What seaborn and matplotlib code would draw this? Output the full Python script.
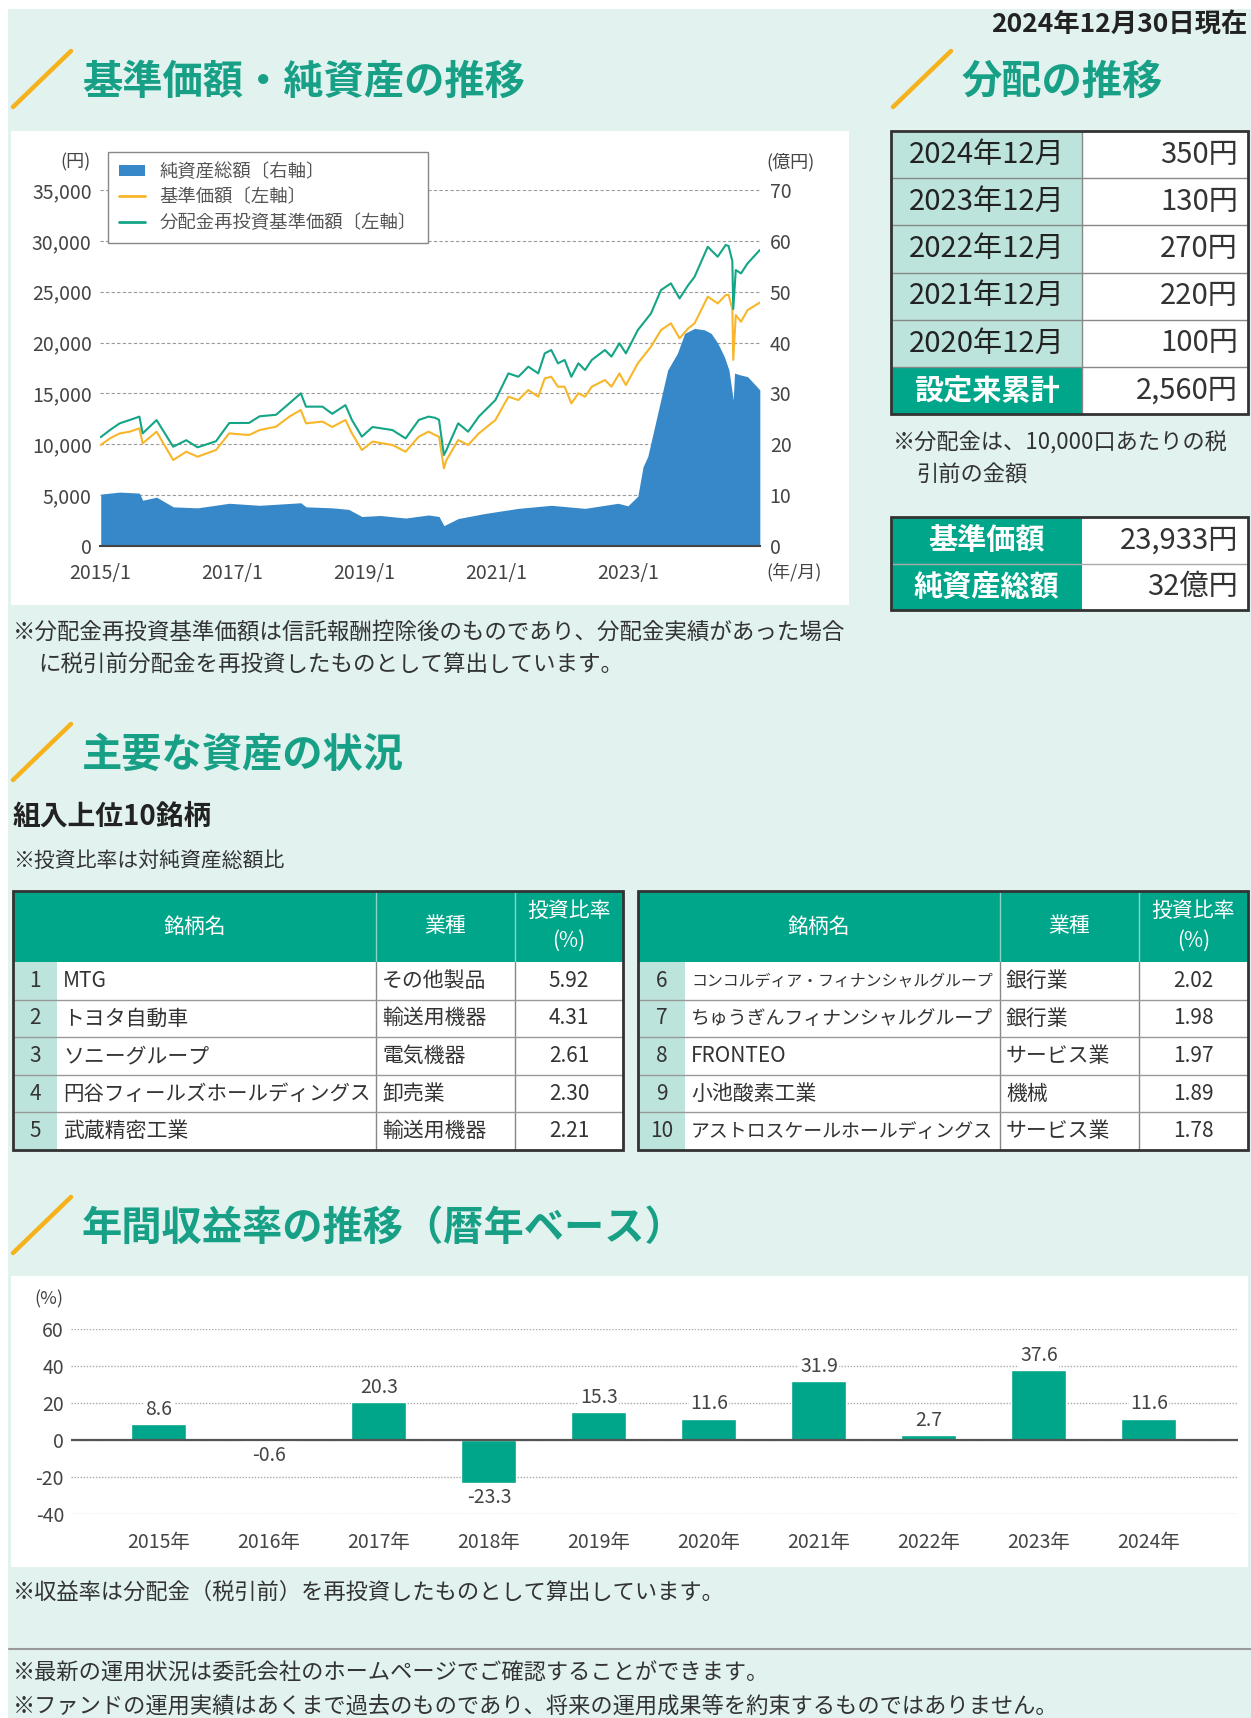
import pandas as pd
import seaborn as sns
import matplotlib.pyplot as plt
from matplotlib.patches import Rectangle, Patch
from matplotlib.lines import Line2D

sns.set_style('white')
plt.rcParams['font.family'] = ['Noto Sans CJK JP', 'DejaVu Sans']

# ---- 基準価額・分配金再投資基準価額（円） ----
price_dates = ['2015-01-05', '2015-02-25', '2015-04-20', '2015-06-15', '2015-08-07', '2015-08-25',
               '2015-11-10', '2016-02-10', '2016-04-22', '2016-06-24', '2016-10-04', '2016-12-16',
               '2017-04-05', '2017-06-02', '2017-09-01', '2017-11-14', '2018-01-16', '2018-02-14',
               '2018-05-16', '2018-07-09', '2018-09-20', '2018-10-26', '2018-12-20', '2019-02-17',
               '2019-06-07', '2019-08-19', '2019-10-31', '2019-12-24', '2020-01-30', '2020-02-20',
               '2020-03-18', '2020-04-01', '2020-06-05', '2020-07-30', '2020-09-27', '2020-12-28',
               '2021-03-10', '2021-05-04', '2021-06-28', '2021-08-22', '2021-09-27', '2021-11-02',
               '2021-12-09', '2022-01-15', '2022-02-21', '2022-04-01', '2022-05-08', '2022-06-14',
               '2022-08-26', '2022-10-01', '2022-11-14', '2022-12-20', '2023-02-24', '2023-05-08',
               '2023-07-02', '2023-08-26', '2023-10-13', '2023-11-30', '2024-01-04', '2024-03-17',
               '2024-05-11', '2024-06-24', '2024-07-10', '2024-07-31', '2024-08-05', '2024-08-19',
               '2024-09-17', '2024-10-23', '2024-12-30']
nav = [9930, 10580, 11070, 11240, 11570, 10090,
       11240, 8450, 9270, 8780, 9440, 11070,
       10910, 11400, 11730, 12720, 13370, 12060,
       12230, 11700, 12390, 11070, 9440, 10260,
       9930, 9270, 10750, 11240, 10900, 10750,
       7630, 8450, 10420, 9930, 11070, 12390,
       14680, 14350, 15330, 14680, 16480, 16640,
       15660, 15660, 14020, 15010, 14680, 15660,
       16320, 15660, 16970, 15820, 17960, 19600,
       21230, 21890, 20420, 21400, 21890, 24510,
       23850, 24670, 24700, 23300, 18300, 22700,
       22050, 23190, 23933]
nav_reinvest = [10700, 11400, 12060, 12390, 12720, 11070,
                12380, 9760, 10400, 9700, 10300, 12090,
                12100, 12750, 12900, 14030, 15010, 13700,
                13700, 13000, 13850, 12390, 10750, 11700,
                11400, 10580, 12390, 12720, 12600, 12400,
                8950, 9440, 12060, 11240, 12720, 14350,
                16970, 16640, 17630, 16970, 18940, 19270,
                17960, 18290, 16640, 17960, 17300, 18290,
                19270, 18620, 19930, 18940, 21230, 22870,
                25160, 25820, 24340, 25650, 26470, 29420,
                28440, 29590, 29500, 28000, 23300, 27130,
                26800, 27780, 29100]

# ---- 純資産総額（億円） ----
asset_dates = ['2015-01-05', '2015-04-20', '2015-08-07', '2015-08-25', '2015-11-10', '2016-02-10',
               '2016-06-24', '2016-12-16', '2017-06-02', '2018-01-16', '2018-02-14', '2018-07-09',
               '2018-10-08', '2018-12-20', '2019-04-01', '2019-08-19', '2019-12-24', '2020-02-20',
               '2020-03-18', '2020-06-05', '2020-11-01', '2021-05-04', '2021-11-02', '2022-05-08',
               '2022-11-07', '2022-12-31', '2023-02-24', '2023-03-25', '2023-04-20', '2023-06-14',
               '2023-08-08', '2023-10-01', '2023-11-10', '2024-01-04', '2024-02-28', '2024-04-05',
               '2024-05-11', '2024-06-17', '2024-07-12', '2024-08-05', '2024-08-12', '2024-09-17',
               '2024-10-23', '2024-12-30']
net_assets = [10.2, 10.6, 10.4, 9.0, 9.6, 7.7,
              7.5, 8.4, 8.0, 8.5, 7.7, 7.5,
              7.2, 5.8, 6.0, 5.5, 6.1, 5.8,
              4.0, 5.4, 6.4, 7.4, 8.0, 7.4,
              8.4, 7.9, 9.8, 15.6, 17.6, 26.1,
              34.6, 37.9, 41.8, 42.8, 42.5, 41.8,
              39.9, 37.2, 34.6, 28.7, 34.0, 33.6,
              33.3, 30.7]

# ---- 分配の推移 ----
dist_months = ['2024年12月', '2023年12月', '2022年12月', '2021年12月', '2020年12月']
dist_amounts = [350, 130, 270, 220, 100]
dist_total = 2560
nav_latest = 23933
assets_latest = 32

# ---- 組入上位10銘柄 ----
ranks = [1, 2, 3, 4, 5, 6, 7, 8, 9, 10]
names = ['MTG', 'トヨタ自動車', 'ソニーグループ', '円谷フィールズホールディングス', '武蔵精密工業',
         'コンコルディア・フィナンシャルグループ', 'ちゅうぎんフィナンシャルグループ', 'FRONTEO',
         '小池酸素工業', 'アストロスケールホールディングス']
sectors = ['その他製品', '輸送用機器', '電気機器', '卸売業', '輸送用機器',
           '銀行業', '銀行業', 'サービス業', '機械', 'サービス業']
weights = [5.92, 4.31, 2.61, 2.30, 2.21, 2.02, 1.98, 1.97, 1.89, 1.78]

# ---- 年間収益率 ----
years = ['2015年', '2016年', '2017年', '2018年', '2019年', '2020年', '2021年', '2022年', '2023年', '2024年']
returns = [8.6, -0.6, 20.3, -23.3, 15.3, 11.6, 31.9, 2.7, 37.6, 11.6]

# ---- colours ----
TITLE_G = '#17a086'
GREEN = '#00a68a'
LIGHT = '#e1f2ef'
CELL = '#bde4dc'
ORANGE = '#f6b21b'
BLUE = '#3688c8'
YELLOW = '#f8b62a'
TEAL = '#13a585'
TXT = '#333333'
AX = '#444444'

W, H = 1251, 1718
fig = plt.figure(figsize=(W / 100, H / 100), dpi=100)


def fbox(x0, y0, x1, y1):
    return [x0 / W, 1 - y1 / H, (x1 - x0) / W, (y1 - y0) / H]


bg = fig.add_axes([0, 0, 1, 1])
bg.set_xlim(0, W)
bg.set_ylim(H, 0)
bg.axis('off')
bg.set_zorder(0)

bg.add_patch(Rectangle((8, 9), W - 8, H - 9, fc=LIGHT, ec='none', zorder=0))
bg.add_patch(Rectangle((11, 131), 838, 474, fc='white', ec='none', zorder=1))
bg.add_patch(Rectangle((11, 1276), 1237, 291, fc='white', ec='none', zorder=1))


def section(x, y, label):
    bg.plot([x - 69, x - 11], [y + 25, y - 31], color=ORANGE, lw=3.2, solid_capstyle='round', zorder=3)
    bg.text(x, y, label, fontsize=29, fontweight='bold', color=TITLE_G, va='center', ha='left', zorder=3)


section(82, 82, '基準価額・純資産の推移')
section(962, 82, '分配の推移')
section(82, 755, '主要な資産の状況')
section(82, 1228, '年間収益率の推移（暦年ベース）')

bg.text(1247, 24, '2024年12月30日現在', fontsize=19, fontweight='bold', color='#222', ha='right', va='center')

# ---- price chart ----
ax = fig.add_axes(fbox(100, 190, 760, 546))
ax2 = ax.twinx()
pd_dates = pd.to_datetime(price_dates)
sns.lineplot(x=pd_dates, y=nav, ax=ax, color=YELLOW, lw=1.5)
sns.lineplot(x=pd_dates, y=nav_reinvest, ax=ax, color=TEAL, lw=1.5)
ax2.fill_between(pd.to_datetime(asset_dates), net_assets, color=BLUE, lw=0)

ax2.set_zorder(1)
ax.set_zorder(2)
ax.patch.set_visible(False)
ax2.patch.set_visible(False)

ax.set_xlim(pd.Timestamp('2015-01-01'), pd.Timestamp('2024-12-31'))
ax.set_ylim(0, 35000)
ax2.set_ylim(0, 70)
ax.set_yticks(range(0, 35001, 5000))
ax.set_yticklabels([f'{v:,}' for v in range(0, 35001, 5000)])
ax2.set_yticks(range(0, 71, 10))
tick_years = ['2015', '2017', '2019', '2021', '2023']
ax.set_xticks(pd.to_datetime([y + '-01-01' for y in tick_years]))
ax.set_xticklabels([y + '/1' for y in tick_years])
ax.set_xlabel('')
ax.set_ylabel('')
ax.grid(False)
ax2.grid(axis='y', ls=(0, (3, 2)), color='#9a9a9a', lw=0.8)
ax2.set_axisbelow(True)
for s in ax.spines.values():
    s.set_visible(False)
for s in ax2.spines.values():
    s.set_visible(False)
ax.spines['bottom'].set_visible(True)
ax.spines['bottom'].set_color(AX)
ax.spines['bottom'].set_linewidth(1.5)
ax.tick_params(axis='y', length=0, pad=6, labelsize=14, labelcolor=AX)
ax2.tick_params(axis='y', length=0, pad=7, labelsize=14, labelcolor=AX)
ax.tick_params(axis='x', direction='in', length=5, width=1.2, color=AX, pad=12, labelsize=14, labelcolor=AX)

handles = [Patch(fc=BLUE, ec='none', label='純資産総額〔右軸〕'),
           Line2D([], [], color=YELLOW, lw=2, label='基準価額〔左軸〕'),
           Line2D([], [], color=TEAL, lw=2, label='分配金再投資基準価額〔左軸〕')]
leg = ax.legend(handles=handles, loc='upper left', bbox_to_anchor=(108 / W, 1 - 152 / H),
                bbox_transform=fig.transFigure, frameon=True, fancybox=False, edgecolor='#888',
                framealpha=1, fontsize=13.2, handlelength=1.4, handleheight=0.6, borderpad=0.6,
                labelspacing=0.4, borderaxespad=0, handletextpad=0.8)
leg.get_frame().set_linewidth(1.0)
for t in leg.get_texts():
    t.set_color('#555')

bg.text(75, 162, '(円)', fontsize=13, color=AX, ha='center', va='center', zorder=3)
bg.text(790, 162, '(億円)', fontsize=13, color=AX, ha='center', va='center', zorder=3)
bg.text(794, 572, '(年/月)', fontsize=13, color=AX, ha='center', va='center', zorder=3)

bg.text(13, 632, '※分配金再投資基準価額は信託報酬控除後のものであり、分配金実績があった場合',
        fontsize=16.2, color=TXT, va='center')
bg.text(38, 664, 'に税引前分配金を再投資したものとして算出しています。', fontsize=16.2, color=TXT, va='center')

# ---- distribution table ----
def hline(x0, x1, y, color='#888', lw=1.0):
    bg.plot([x0, x1], [y, y], color=color, lw=lw, zorder=3)


def vline(x, y0, y1, color='#888', lw=1.0):
    bg.plot([x, x], [y0, y1], color=color, lw=lw, zorder=3)


dx0, dxm, dx1, dtop, drh = 891, 1082, 1248, 131, 47.2
rows = list(zip(dist_months, [f'{v:,}円' for v in dist_amounts])) + [('設定来累計', f'{dist_total:,}円')]
for i, (lab, val) in enumerate(rows):
    y0 = dtop + i * drh
    last = i == len(rows) - 1
    bg.add_patch(Rectangle((dx0, y0), dxm - dx0, drh, fc=GREEN if last else CELL, ec='none', zorder=2))
    bg.add_patch(Rectangle((dxm, y0), dx1 - dxm, drh, fc='white', ec='none', zorder=2))
    bg.text((dx0 + dxm) / 2, y0 + drh / 2, lab, fontsize=21, ha='center', va='center', zorder=4,
            color='white' if last else '#222', fontweight='bold' if last else 'normal')
    bg.text(dx1 - 10, y0 + drh / 2, val, fontsize=21, ha='right', va='center', color='#333', zorder=4)
    if i > 0:
        hline(dx0, dx1, y0)
vline(dxm, dtop, dtop + drh * len(rows))
bg.add_patch(Rectangle((dx0, dtop), dx1 - dx0, drh * len(rows), fill=False, ec='#333', lw=2, zorder=5))

bg.text(893, 443, '※分配金は、10,000口あたりの税', fontsize=16, color=TXT, va='center')
bg.text(916, 475, '引前の金額', fontsize=16, color=TXT, va='center')

btop, brh = 517, 46.5
for i, (lab, val) in enumerate([('基準価額', f'{nav_latest:,}円'), ('純資産総額', f'{assets_latest}億円')]):
    y0 = btop + i * brh
    bg.add_patch(Rectangle((dx0, y0), dxm - dx0, brh, fc=GREEN, ec='none', zorder=2))
    bg.add_patch(Rectangle((dxm, y0), dx1 - dxm, brh, fc='white', ec='none', zorder=2))
    bg.text((dx0 + dxm) / 2, y0 + brh / 2, lab, fontsize=21, ha='center', va='center', color='white',
            fontweight='bold', zorder=4)
    bg.text(dx1 - 10, y0 + brh / 2, val, fontsize=21, ha='right', va='center', color='#333', zorder=4)
    if i > 0:
        hline(dx0, dx1, y0, color='#aaa')
bg.add_patch(Rectangle((dx0, btop), dx1 - dx0, brh * 2, fill=False, ec='#333', lw=2, zorder=5))

# ---- holdings ----
bg.text(13, 817, '組入上位10銘柄', fontsize=20, fontweight='bold', color='#222', va='center')
bg.text(13, 861, '※投資比率は対純資産総額比', fontsize=15, color=TXT, va='center')


def holdings_table(xs, idx):
    top, hb, rh = 891, 962, 37.6
    bottom = hb + rh * len(idx)
    bg.add_patch(Rectangle((xs[0], top), xs[4] - xs[0], hb - top, fc=GREEN, ec='none', zorder=2))
    bg.add_patch(Rectangle((xs[0], hb), xs[1] - xs[0], bottom - hb, fc=CELL, ec='none', zorder=2))
    bg.add_patch(Rectangle((xs[1], hb), xs[4] - xs[1], bottom - hb, fc='white', ec='none', zorder=2))
    hc = (top + hb) / 2
    bg.text((xs[0] + xs[2]) / 2, hc, '銘柄名', fontsize=15, color='white', ha='center', va='center', zorder=4)
    bg.text((xs[2] + xs[3]) / 2, hc, '業種', fontsize=15, color='white', ha='center', va='center', zorder=4)
    bg.text((xs[3] + xs[4]) / 2, top + 20, '投資比率', fontsize=15, color='white', ha='center', va='center', zorder=4)
    bg.text((xs[3] + xs[4]) / 2, top + 50, '(%)', fontsize=15, color='white', ha='center', va='center', zorder=4)
    for x in (xs[2], xs[3]):
        vline(x, top, hb, color='#8fd3c5')
        vline(x, hb, bottom, color='#888')
    avail = xs[2] - xs[1] - 12
    for r, i in enumerate(idx):
        yc = hb + rh * (r + 0.5)
        if r > 0:
            hline(xs[0], xs[4], hb + rh * r, color='#999')
        bg.text((xs[0] + xs[1]) / 2, yc, str(ranks[i]), fontsize=15, color='#333', ha='center', va='center', zorder=4)
        fs = min(15, avail / (len(names[i]) * 1.39))
        bg.text(xs[1] + 6, yc, names[i], fontsize=fs, color='#333', ha='left', va='center', zorder=4)
        bg.text(xs[2] + 6, yc, sectors[i], fontsize=15, color='#333', ha='left', va='center', zorder=4)
        bg.text((xs[3] + xs[4]) / 2, yc, f'{weights[i]:.2f}', fontsize=15, color='#333',
                ha='center', va='center', zorder=4)
    bg.add_patch(Rectangle((xs[0], top), xs[4] - xs[0], bottom - top, fill=False, ec='#333', lw=2, zorder=5))


holdings_table([13, 57, 376, 515, 623], range(0, 5))
holdings_table([638, 685, 1000, 1139, 1248], range(5, 10))

# ---- annual returns ----
axb = fig.add_axes(fbox(71, 1329, 1238, 1514))
axb.set_zorder(1)
axb.patch.set_visible(False)
sns.barplot(x=years, y=returns, color=GREEN, width=0.5, saturation=1, ax=axb, zorder=3)
axb.set_xlim(-0.8, 9.81)
axb.set_ylim(-40, 60)
yt = [-40, -20, 0, 20, 40, 60]
axb.set_yticks(yt)
axb.set_yticklabels([str(v) for v in yt])
axb.grid(axis='y', ls=(0, (1, 1.2)), color='#aaa', lw=1)
axb.set_axisbelow(True)
axb.axhline(0, color='#555', lw=1.6, zorder=4)
for s in axb.spines.values():
    s.set_visible(False)
axb.set_xlabel('')
axb.set_ylabel('')
axb.tick_params(axis='both', length=0, labelsize=14, labelcolor=AX)
axb.tick_params(axis='x', pad=13)
axb.tick_params(axis='y', pad=5)
for i, v in enumerate(returns):
    axb.annotate(f'{v}', (i, v), xytext=(0, 3 if v >= 0 else -3), textcoords='offset points',
                 ha='center', va='bottom' if v >= 0 else 'top', fontsize=14, color=AX, zorder=5,
                 bbox=dict(fc='white', ec='none', pad=1))
bg.text(49, 1299, '(%)', fontsize=13, color=AX, ha='center', va='center', zorder=3)

bg.text(13, 1592, '※収益率は分配金（税引前）を再投資したものとして算出しています。', fontsize=16, color=TXT, va='center')
hline(9, W, 1649, color='#999', lw=1.5)
bg.text(13, 1673, '※最新の運用状況は委託会社のホームページでご確認することができます。', fontsize=16, color=TXT, va='center')
bg.text(13, 1706, '※ファンドの運用実績はあくまで過去のものであり、将来の運用成果等を約束するものではありません。',
        fontsize=16, color=TXT, va='center')

fig.savefig('out.png', dpi=100)
